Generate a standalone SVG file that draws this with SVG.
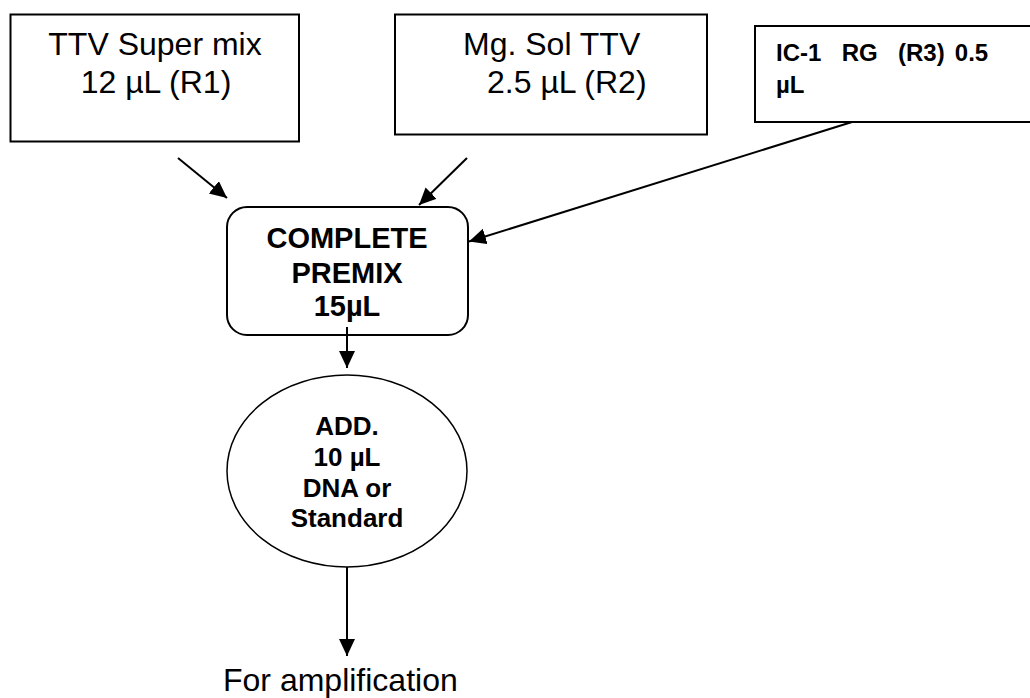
<svg xmlns="http://www.w3.org/2000/svg" width="1030" height="698" viewBox="0 0 1030 698">
<style>
.s{fill:#fff;stroke:#000;stroke-width:2}
.e{fill:#fff;stroke:#000;stroke-width:1.5}
.l{fill:none;stroke:#000;stroke-width:2;marker-end:url(#a)}
text{font-family:"Liberation Sans",Arial,sans-serif;fill:#000}
.n{font-size:32px}
.b{font-weight:bold}
</style>
<defs><marker id="a" markerUnits="userSpaceOnUse" markerWidth="18" markerHeight="18" refX="17" refY="8" orient="auto"><path d="M0 0L17 8L0 16Z" fill="#000"/></marker></defs>
<rect width="1030" height="698" fill="#fff"/>
<g id="r1"><rect class="s" x="10.5" y="14.500" width="288.5" height="127"/>
<text class="n" x="155" y="55" text-anchor="middle">TTV Super mix</text><text class="n" x="156" y="92.500" text-anchor="middle">12 µL (R1)</text></g>
<g id="r2"><rect class="s" x="395" y="14.500" width="312" height="120"/>
<text class="n" x="463" y="55">Mg. Sol TTV</text><text class="n" x="487" y="92.500">2.5 µL (R2)</text></g>
<g id="r3"><rect class="s" x="755" y="26" width="290" height="96"/>
<text class="b" font-size="24" word-spacing="3.5" x="776" y="61" xml:space="preserve">IC-1  RG  (R3) 0.5</text><text class="b" font-size="24" x="776" y="93">µL</text></g>
<g id="premix"><rect class="s" x="227" y="207" width="241" height="128" rx="20"/>
<g class="b" font-size="29" text-anchor="middle"><text x="347" y="248">COMPLETE</text><text x="347" y="282.5">PREMIX</text><text x="347" y="316">15µL</text></g></g>
<g id="add"><ellipse class="e" cx="347" cy="471" rx="120" ry="96"/>
<g class="b" font-size="26" text-anchor="middle"><text x="347" y="435">ADD.</text><text x="347" y="466">10 µL</text><text x="347" y="497">DNA or</text><text x="347" y="527">Standard</text></g></g>
<text id="amp" class="n" x="223" y="691">For amplification</text>
<g id="connectors">
<path class="l" d="M178 158L227 198"/>
<path class="l" d="M467 158L419 205"/>
<path class="l" d="M852 122L469 241.500"/>
<path class="l" d="M347 327V368"/>
<path class="l" d="M347 567V656"/>
</g>
</svg>
